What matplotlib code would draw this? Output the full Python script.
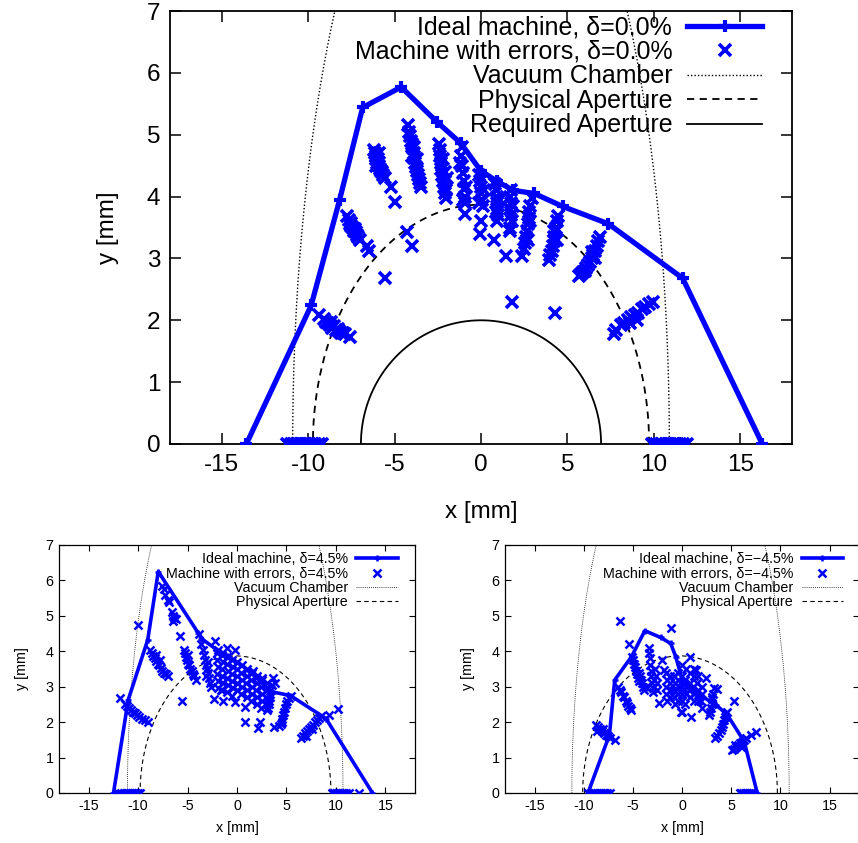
import numpy as np
import matplotlib.pyplot as plt

plt.rcParams['font.family'] = ['Liberation Sans', 'DejaVu Sans']
plt.rcParams['axes.unicode_minus'] = False

BLUE = '#0000ff'

# === Ideal machine (dynamic aperture boundary) ===
ideal0_x = [-13.58, -9.83, -8.18, -6.85, -4.62, -2.56, -1.16, -0.02, 0.90, 1.87, 3.08, 4.73, 7.37, 11.67, 16.28]
ideal0_y = [0.0, 2.24, 3.95, 5.44, 5.77, 5.21, 4.86, 4.42, 4.25, 4.10, 4.05, 3.84, 3.56, 2.68, 0.0]

idealp_x = [-12.49, -11.0, -9.03, -7.96, -3.93, -3.6, -2.08, -0.9, 1.2, 3.46, 5.4, 9.0, 13.7]
idealp_y = [0.0, 2.63, 4.32, 6.25, 4.52, 4.36, 4.05, 3.87, 3.45, 2.86, 2.75, 2.1, 0.0]

idealm_x = [-9.56, -7.38, -6.84, -5.13, -3.78, -2.17, -1.15, -0.64, 0.03, 1.6, 3.5, 4.62, 6.33, 7.65]
idealm_y = [0.0, 1.64, 3.19, 3.85, 4.58, 4.39, 4.22, 3.85, 3.19, 2.8, 2.48, 2.2, 1.45, 0.0]

# === Machine with errors, delta = 0.0% ===
err0 = [
    # on the axis
    (-11.2, 0), (-11.0, 0), (-10.9, 0), (-10.8, 0), (-10.6, 0), (-10.5, 0), (-10.4, 0), (-10.2, 0),
    (-10.1, 0), (-10.0, 0), (-9.8, 0), (-9.7, 0), (-9.6, 0), (-9.4, 0), (-9.2, 0),
    (9.9, 0), (10.1, 0), (10.3, 0), (10.4, 0), (10.5, 0), (10.7, 0), (10.8, 0), (10.9, 0),
    (11.1, 0), (11.2, 0), (11.3, 0), (11.5, 0), (11.7, 0), (11.9, 0),
    # lower left band
    (-9.4, 2.08), (-9.1, 2.02), (-8.95, 1.98), (-8.85, 1.95), (-8.75, 1.92), (-8.7, 1.97), (-8.6, 1.88),
    (-8.5, 1.9), (-8.4, 1.85), (-8.3, 1.86), (-8.2, 1.82), (-8.1, 1.8), (-8.0, 1.8), (-7.9, 1.78), (-7.6, 1.73),
    # left band
    (-7.75, 3.68), (-7.65, 3.62), (-7.6, 3.55), (-7.55, 3.58), (-7.5, 3.52), (-7.4, 3.5), (-7.35, 3.45),
    (-7.3, 3.48), (-7.25, 3.42), (-7.2, 3.38), (-7.1, 3.35), (-7.0, 3.3), (-6.6, 3.2), (-6.5, 3.12),
    (-5.56, 2.69), (-4.31, 3.43), (-4.02, 3.2),
    (-6.2, 4.75), (-6.15, 4.7), (-6.1, 4.65), (-6.05, 4.6), (-6.0, 4.55), (-5.95, 4.6), (-5.9, 4.5),
    (-5.85, 4.45), (-5.8, 4.42), (-5.75, 4.4), (-5.65, 4.35), (-5.55, 4.3), (-5.9, 4.7), (-6.1, 4.5),
    (-5.2, 4.16), (-4.95, 3.92),
    (-4.2, 5.15), (-4.15, 5.05), (-4.1, 4.98), (-4.05, 4.9), (-4.0, 4.85), (-3.95, 4.78), (-3.9, 4.7),
    (-3.85, 4.62), (-3.8, 4.55), (-3.75, 4.48), (-3.7, 4.42), (-3.65, 4.35), (-3.6, 4.28), (-3.55, 4.22),
    (-3.5, 4.16), (-3.85, 4.8), (-3.7, 4.6), (-4.0, 4.65),
    (-2.45, 4.85), (-2.4, 4.75), (-2.35, 4.65), (-2.3, 4.55), (-2.3, 4.45), (-2.25, 4.35), (-2.2, 4.25),
    (-2.15, 4.15), (-2.1, 4.05), (-2.05, 3.98), (-2.0, 4.1), (-2.1, 4.4), (-2.2, 4.6), (-1.95, 4.3),
    (-1.1, 4.8), (-1.15, 4.65), (-1.1, 4.5), (-1.05, 4.38), (-1.0, 4.25), (-1.0, 4.12), (-0.95, 4.0),
    (-0.9, 3.9), (-1.05, 3.95), (-0.85, 4.15), (-0.9, 3.72), (-1.2, 4.55),
    (-0.1, 4.35), (-0.05, 4.25), (0.0, 4.15), (0.0, 4.05), (0.05, 3.95), (0.1, 3.85), (-0.1, 3.9),
    (0.15, 4.1), (0.0, 3.6), (-0.05, 3.39),
    (0.8, 4.2), (0.85, 4.1), (0.9, 4.0), (0.9, 3.9), (0.95, 3.8), (1.0, 3.7), (0.85, 3.75), (1.05, 3.95),
    (0.95, 3.6), (0.75, 3.3),
    (1.75, 4.1), (1.7, 4.0), (1.75, 3.9), (1.7, 3.8), (1.75, 3.7), (1.8, 3.6), (1.7, 3.5), (1.85, 3.85),
    (1.65, 3.45), (1.45, 3.04), (1.8, 2.29),
    (2.95, 3.98), (2.85, 3.85), (2.8, 3.75), (2.75, 3.65), (2.7, 3.55), (2.65, 3.45), (2.6, 3.35),
    (2.55, 3.25), (2.5, 3.15), (2.7, 3.3), (2.85, 3.6), (2.35, 3.04),
    (4.45, 3.68), (4.4, 3.6), (4.35, 3.5), (4.3, 3.42), (4.25, 3.35), (4.2, 3.28), (4.15, 3.2),
    (4.1, 3.12), (4.0, 3.05), (3.95, 2.98), (4.4, 3.3), (4.2, 3.45), (4.3, 2.12),
    (6.9, 3.35), (6.8, 3.28), (6.7, 3.2), (6.6, 3.12), (6.5, 3.05), (6.4, 3.0), (6.3, 2.95), (6.2, 2.9),
    (6.1, 2.85), (6.0, 2.8), (5.9, 2.78), (5.8, 2.75), (5.65, 2.72), (6.4, 3.1), (6.6, 3.0),
    (7.7, 1.78), (7.8, 1.85), (8.1, 1.92), (8.3, 1.95), (8.5, 2.0), (8.7, 2.05), (8.9, 2.08), (9.1, 2.12),
    (9.3, 2.18), (9.5, 2.22), (9.7, 2.26), (9.95, 2.3), (8.6, 1.95), (9.0, 2.0),
]

# === Machine with errors, delta = +4.5% ===
errp = [
    (-12.0, 0), (-11.7, 0), (-11.4, 0), (-11.2, 0), (-11.0, 0), (-10.8, 0), (-10.6, 0), (-10.4, 0),
    (-10.2, 0), (-10.0, 0), (-9.8, 0),
    (9.6, 0), (9.8, 0), (10.0, 0), (10.2, 0), (10.4, 0), (10.6, 0), (10.8, 0), (11.0, 0), (11.3, 0), (12.3, 0),
    (-11.8, 2.67),
    (-11.3, 2.52), (-11.1, 2.45), (-10.9, 2.4), (-10.7, 2.35), (-10.5, 2.3), (-10.3, 2.25), (-10.1, 2.2),
    (-9.9, 2.15), (-9.6, 2.1), (-9.3, 2.05), (-9.0, 2.0),
    (-9.97, 4.74),
    (-8.75, 4.05), (-8.6, 3.95), (-8.45, 3.88), (-8.3, 3.8), (-8.15, 3.72), (-8.0, 3.65), (-7.85, 3.6),
    (-7.7, 3.52), (-7.55, 3.45), (-7.4, 3.4), (-7.2, 3.35), (-7.0, 3.3), (-8.2, 3.9), (-7.8, 3.75),
    (-7.6, 5.85), (-7.4, 5.75), (-7.3, 5.6), (-7.0, 5.45), (-6.9, 5.4), (-6.6, 5.1), (-6.5, 5.0),
    (-6.4, 4.95), (-6.2, 4.9), (-6.5, 4.85),
    (-5.75, 4.42),
    (-5.4, 4.05), (-5.3, 3.95), (-5.2, 3.85), (-5.1, 3.75), (-5.0, 3.65), (-4.9, 3.6), (-4.8, 3.5),
    (-4.6, 3.45), (-4.5, 3.35), (-4.3, 3.3), (-4.1, 3.2), (-5.0, 3.9),
    (-5.6, 2.59), (-3.8, 4.5), (-3.6, 4.2),
    (-3.4, 4.05), (-3.3, 3.9), (-3.2, 3.75), (-3.1, 3.6), (-3.0, 3.5), (-2.9, 3.4), (-2.8, 3.25),
    (-2.7, 3.1), (-2.6, 3.0), (-3.1, 3.3), (-2.9, 3.7),
    (-2.2, 4.28), (-1.9, 4.05), (-1.0, 4.1), (-0.2, 4.03),
    # dense core
    (-2.0, 3.95), (-2.05, 3.75), (-1.95, 3.55), (-2.0, 3.35), (-1.9, 3.15), (-1.95, 2.95),
    (-1.5, 3.9), (-1.45, 3.7), (-1.55, 3.5), (-1.5, 3.3), (-1.45, 3.1), (-1.5, 2.9),
    (-1.0, 3.85), (-1.05, 3.65), (-0.95, 3.45), (-1.0, 3.25), (-0.95, 3.05), (-1.0, 2.85),
    (-0.5, 3.75), (-0.45, 3.55), (-0.55, 3.35), (-0.5, 3.15), (-0.45, 2.95), (-0.5, 2.75),
    (0.0, 3.7), (0.05, 3.5), (-0.05, 3.3), (0.0, 3.1), (0.05, 2.9),
    (0.5, 3.6), (0.45, 3.4), (0.55, 3.2), (0.5, 3.0), (0.45, 2.8),
    (1.0, 3.5), (1.05, 3.3), (0.95, 3.1), (1.0, 2.9), (1.05, 2.7),
    (1.5, 3.4), (1.45, 3.2), (1.55, 3.0), (1.5, 2.8), (1.45, 2.6),
    (2.0, 3.3), (2.05, 3.1), (1.95, 2.9), (2.0, 2.7), (2.05, 2.5),
    (2.5, 3.2), (2.45, 3.0), (2.55, 2.8), (2.5, 2.6), (2.45, 2.4),
    (3.0, 3.1), (3.05, 2.9), (2.95, 2.7), (3.0, 2.5), (3.05, 2.35),
    (-0.2, 2.57), (0.8, 2.43), (1.6, 3.45), (2.5, 3.25), (-1.4, 2.6), (-2.3, 2.65), (-1.6, 2.9),
    (0.77, 2.01), (2.28, 2.01), (2.1, 1.83), (3.73, 1.87), (3.8, 3.11),
    (3.5, 3.05), (3.4, 2.9), (3.35, 2.8), (3.3, 2.7), (3.25, 2.6), (3.2, 2.5), (3.1, 2.4), (3.6, 3.25),
    (5.3, 2.68), (5.1, 2.6), (5.0, 2.5), (4.9, 2.4), (4.8, 2.3), (4.7, 2.2), (4.6, 2.1), (4.5, 2.0),
    (4.4, 1.95), (4.2, 1.9), (5.5, 2.75),
    (6.5, 1.55), (6.7, 1.62), (6.9, 1.68), (7.1, 1.75), (7.3, 1.8), (7.5, 1.87), (7.7, 1.93), (7.9, 2.0),
    (8.1, 2.06), (8.3, 2.12), (8.5, 2.18), (7.0, 1.6), (7.6, 1.8),
    (9.33, 2.19), (10.17, 2.36),
]

# === Machine with errors, delta = -4.5% ===
errm = [
    (-9.6, 0), (-9.3, 0), (-9.0, 0), (-8.8, 0), (-8.6, 0), (-8.4, 0), (-8.2, 0), (-8.0, 0), (-7.8, 0),
    (-7.6, 0), (-7.3, 0),
    (5.85, 0), (6.0, 0), (6.2, 0), (6.4, 0), (6.6, 0), (6.8, 0), (7.0, 0), (7.2, 0),
    (-6.26, 4.86), (-5.41, 4.2), (-1.15, 4.67),
    (-8.7, 1.92), (-8.5, 1.85), (-8.3, 1.8), (-8.1, 1.75), (-7.9, 1.7), (-7.7, 1.65), (-7.5, 1.6),
    (-7.3, 1.55), (-8.6, 1.75), (-8.0, 1.82), (-6.77, 1.49),
    (-6.5, 3.0), (-6.3, 2.9), (-6.2, 2.85), (-6.0, 2.75), (-5.9, 2.7), (-5.7, 2.6), (-5.6, 2.55),
    (-5.5, 2.45), (-5.3, 2.4), (-5.2, 2.35),
    (-5.1, 3.85), (-5.0, 3.75), (-4.9, 3.65), (-4.8, 3.55), (-4.7, 3.45), (-4.6, 3.35), (-4.5, 3.25), (-4.4, 3.15),
    (-4.4, 3.4), (-4.3, 3.3), (-4.2, 3.2), (-4.1, 3.1), (-4.0, 3.0), (-3.9, 2.9), (-3.7, 3.0),
    (-3.4, 4.1), (-3.35, 3.95), (-3.3, 3.8), (-3.25, 3.6), (-3.2, 3.45), (-3.15, 3.3), (-3.1, 3.1),
    (-3.0, 2.95), (-2.9, 2.85),
    (-2.7, 3.5), (-2.6, 3.3), (-2.55, 3.1), (-2.5, 2.9), (-2.8, 3.2),
    (-2.35, 2.53), (-2.0, 3.75), (-1.84, 3.47),
    # dense core
    (-1.6, 3.4), (-1.55, 3.2), (-1.65, 3.0), (-1.6, 2.8), (-1.55, 2.6),
    (-1.2, 3.3), (-1.25, 3.1), (-1.15, 2.9), (-1.2, 2.7),
    (-0.8, 3.3), (-0.75, 3.1), (-0.85, 2.9), (-0.8, 2.7), (-0.75, 2.5),
    (-0.4, 3.4), (-0.45, 3.2), (-0.35, 3.0), (-0.4, 2.8), (-0.45, 2.6),
    (0.0, 3.6), (0.05, 3.3), (-0.05, 3.0), (0.0, 2.8), (0.05, 2.6), (0.0, 2.3),
    (0.4, 3.5), (0.35, 3.2), (0.45, 3.0), (0.4, 2.8), (0.35, 2.5),
    (0.8, 3.4), (0.85, 3.1), (0.75, 2.9), (0.8, 2.7),
    (1.2, 3.5), (1.25, 3.3), (1.15, 3.0), (1.2, 2.8), (1.25, 2.6),
    (1.6, 3.3), (1.55, 3.1), (1.65, 2.9), (1.6, 2.6),
    (2.0, 3.0), (2.05, 2.8), (1.95, 2.6), (2.0, 2.4),
    (0.82, 3.85), (0.88, 2.15), (-0.13, 2.29), (1.4, 3.47), (2.42, 3.24), (3.6, 2.93), (5.3, 2.6),
    (3.3, 2.95), (3.2, 2.8), (3.1, 2.65), (3.0, 2.5), (2.9, 2.4), (2.8, 2.3), (2.7, 2.2), (3.0, 2.7),
    (4.5, 2.25), (4.4, 2.15), (4.3, 2.05), (4.2, 1.95), (4.1, 1.85), (4.0, 1.78), (3.8, 1.7), (3.6, 1.62),
    (3.4, 1.56), (4.6, 2.3),
    (5.1, 1.2), (5.3, 1.25), (5.5, 1.3), (5.7, 1.35), (5.9, 1.4), (6.1, 1.45), (6.3, 1.5), (6.5, 1.55),
    (5.4, 1.35), (6.0, 1.3),
    (7.0, 1.64), (7.52, 1.73),
]

# === Aperture outlines: (centre x, half width, height) ===
vacuum_shape = {0: (0.0, 10.9, 11.1), 1: (-0.18, 10.9, 11.1), 2: (-0.15, 11.05, 11.1)}
physical_shape = {0: (0.0, 9.73, 3.87), 1: (-0.15, 9.65, 3.87), 2: (-0.2, 9.9, 3.87)}
required_shape = (0.0, 6.95, 2.0)

labels_delta = ["0.0", "4.5", "\u22124.5"]
ideal_x = [ideal0_x, idealp_x, idealm_x]
ideal_y = [ideal0_y, idealp_y, idealm_y]
errors = [err0, errp, errm]

fig = plt.figure(figsize=(8.58, 8.43), dpi=100)
axes = [
    fig.add_axes([170 / 858, 1 - 444 / 843, 622 / 858, 433 / 843]),
    fig.add_axes([59 / 858, 1 - 793 / 843, 356 / 858, 248 / 843]),
    fig.add_axes([505 / 858, 1 - 793 / 843, 354 / 858, 248 / 843]),
]

t = np.linspace(0, np.pi, 400)

for i, ax in enumerate(axes):
    big = i == 0
    fs = 17.5 if big else 10.3
    lfs = 18 if big else 10.3
    ex = [p[0] for p in errors[i]]
    ey = [p[1] for p in errors[i]]

    ax.plot(ideal_x[i], ideal_y[i], color=BLUE, lw=3.8 if big else 2.6,
            marker='+', ms=8 if big else 4, mew=3 if big else 1.8,
            label=f"Ideal machine, \u03b4={labels_delta[i]}%", zorder=3)
    ax.plot(ex, ey, ls='none', color=BLUE, marker='x', ms=8 if big else 5.8,
            mew=2.6 if big else 1.8, label=f"Machine with errors, \u03b4={labels_delta[i]}%", zorder=4)

    cx, a, b = vacuum_shape[i]
    ax.plot(cx + a * np.cos(t), b * np.sin(t), color='black', ls=(0, (1, 1.5)),
            lw=1.0 if big else 0.6, label="Vacuum Chamber")
    cx, a, b = physical_shape[i]
    ax.plot(cx + a * np.cos(t), b * np.sin(t), color='black', ls=(0, (4, 3)),
            lw=1.3 if big else 0.8, label="Physical Aperture")
    if big:
        cx, a, b = required_shape
        ax.plot(cx + a * np.cos(t), b * np.sin(t), color='black', lw=1.3,
                label="Required Aperture")

    ax.set_xlim(-18, 18)
    ax.set_ylim(0, 7)
    ax.set_xticks(range(-15, 16, 5))
    ax.set_yticks(range(0, 8))
    ax.tick_params(direction='in', top=True, right=True, labelsize=fs,
                   length=8 if big else 4, width=1.1 if big else 0.8, pad=7 if big else 4)
    for s in ax.spines.values():
        s.set_linewidth(1.3 if big else 0.9)
    ax.set_xlabel("x [mm]", fontsize=fs, labelpad=18 if big else 6)
    ax.set_ylabel("y [mm]", fontsize=fs, labelpad=20 if big else 12)

    anchor = {0: (0.952, 0.99), 1: (0.952, 0.97), 2: (0.955, 0.97)}[i]
    ax.legend(loc='upper right', bbox_to_anchor=anchor, frameon=False, fontsize=lfs,
              markerfirst=False, borderpad=0, borderaxespad=0, labelspacing=0.02,
              handlelength=3.0 if big else 2.9, handletextpad=0.6)

fig.savefig("out.png", dpi=100)
